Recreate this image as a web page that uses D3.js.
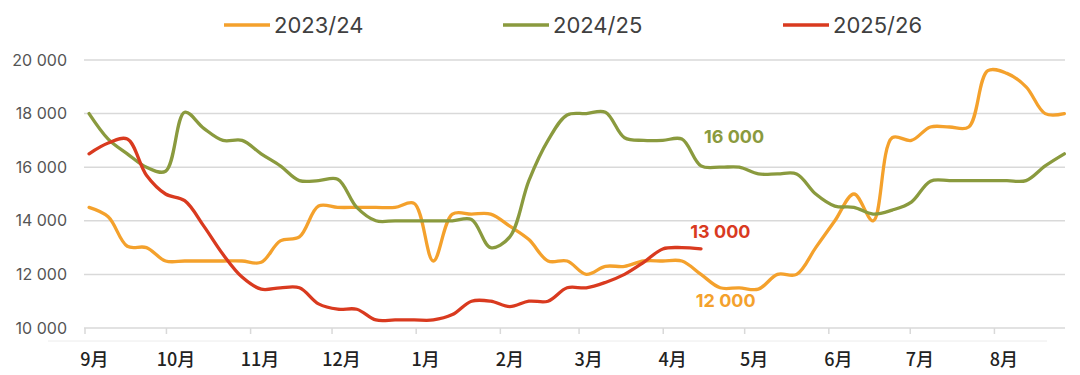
<!DOCTYPE html>
<html>
<head>
<meta charset="utf-8">
<script src="https://cdn.jsdelivr.net/npm/d3@7"></script>
<style>
  body { margin: 0; background: #fff; }
  svg { display: block; font-family: Inter, "Open Sans", sans-serif; }
</style>
</head>
<body>
<script>
// season labels and x categories
const seasons = ["2023/24", "2024/25", "2025/26"];
const monthLabels = ["9月", "10月", "11月", "12月", "1月", "2月", "3月", "4月", "5月", "6月", "7月", "8月"];
const yTicks = [10000, 12000, 14000, 16000, 18000, 20000];

// weekly values
const s2324 = [14500, 14150, 13050, 13000, 12500, 12500, 12500, 12500, 12500, 12450,
  13250, 13400, 14550, 14500, 14500, 14500, 14500, 14650, 12500, 14250,
  14250, 14250, 13800, 13300, 12500, 12500, 12000, 12300, 12300, 12500,
  12500, 12500, 12000, 11500, 11500, 11450, 12000, 12000, 13000, 14000,
  15000, 14000, 17100, 17000, 17500, 17500, 17500, 19600, 19500, 19000,
  18000, 18000];
const s2425 = [18000, 17050, 16500, 16000, 15850, 18050, 17450, 17000, 17000, 16500,
  16050, 15500, 15500, 15550, 14500, 14000, 14000, 14000, 14000, 14000,
  14050, 13000, 13400, 15500, 17000, 17950, 18000, 18050, 17100, 17000,
  17000, 17050, 16050, 16000, 16000, 15750, 15750, 15750, 15000, 14550,
  14500, 14250, 14400, 14700, 15480, 15500, 15500, 15500, 15500, 15500,
  16050, 16500];
const s2526 = [16500, 16900, 17050, 15700, 15000, 14750, 13800, 12750, 11900, 11450,
  11500, 11500, 10900, 10700, 10700, 10300, 10300, 10300, 10300, 10500,
  11000, 11000, 10800, 11000, 11000, 11500, 11500, 11700, 12000, 12450,
  12950, 13000, 12950];

const notes = [
  { text: "16 000", season: "2024/25" },
  { text: "13 000", season: "2025/26" },
  { text: "12 000", season: "2023/24" }
];

const colors = { "2023/24": "#f4a12c", "2024/25": "#8a9a3e", "2025/26": "#d93a1f" };

const width = 1080, height = 375;
const svg = d3.select("body").append("svg")
  .attr("width", width)
  .attr("height", height);

const seasonStart = new Date(2023, 8, 1);
const seasonEnd = new Date(2024, 7, 27);
const x = d3.scaleTime().domain([seasonStart, seasonEnd]).range([85, 1065]);
const y = d3.scaleLinear().domain([10000, 20000]).range([328, 60]);

// sample dates, evenly spaced weeks
const firstWeek = new Date(2023, 8, 2, 12), lastWeek = new Date(2024, 7, 26, 18);
const weeks = d3.range(s2324.length).map(i =>
  new Date(+firstWeek + i * (lastWeek - firstWeek) / (s2324.length - 1)));

//Grid
svg.append("g")
  .selectAll("line")
  .data(yTicks)
  .enter().append("line")
  .attr("x1", 84).attr("x2", 1065)
  .attr("y1", d => y(d)).attr("y2", d => y(d))
  .attr("stroke", "#d9d9d9")
  .attr("stroke-width", 1.5);

svg.append("g")
  .selectAll("text")
  .data(yTicks)
  .enter().append("text")
  .attr("x", 67)
  .attr("y", d => y(d))
  .attr("dy", "0.35em")
  .attr("text-anchor", "end")
  .attr("font-size", 16)
  .attr("fill", "#555")
  .text(d => d3.format(",")(d).replace(",", " "));

//X axis
const monthStarts = d3.timeMonth.range(seasonStart, new Date(2024, 8, 1));
svg.append("g")
  .selectAll("line")
  .data(monthStarts)
  .enter().append("line")
  .attr("x1", d => x(d)).attr("x2", d => x(d))
  .attr("y1", y(10000)).attr("y2", y(10000) + 6)
  .attr("stroke", "#d9d9d9")
  .attr("stroke-width", 1.5);

svg.append("line")
  .attr("x1", 48).attr("x2", 1047)
  .attr("y1", 341).attr("y2", 341)
  .attr("stroke", "#ececec")
  .attr("stroke-width", 1);

svg.append("g")
  .selectAll("text")
  .data(monthStarts)
  .enter().append("text")
  .attr("x", d => x(d3.timeHour.offset(d, 84)))
  .attr("y", 366)
  .attr("text-anchor", "middle")
  .attr("font-family", "'Noto Sans CJK SC', sans-serif")
  .attr("font-size", 18)
  .attr("font-weight", 500)
  .attr("fill", "#222")
  .text((d, i) => monthLabels[i]);

//Lines
const line = d3.line()
  .x((d, i) => x(weeks[i]))
  .y(d => y(d))
  .curve(d3.curveCatmullRom.alpha(0.5));

const seriesData = { "2023/24": s2324, "2024/25": s2425, "2025/26": s2526 };
svg.append("g")
  .selectAll("path")
  .data(seasons)
  .enter().append("path")
  .attr("d", d => line(seriesData[d]))
  .attr("fill", "none")
  .attr("stroke", d => colors[d])
  .attr("stroke-width", 3.3)
  .attr("stroke-linecap", "round")
  .attr("stroke-linejoin", "round");

//Labels next to the lines
const noteAt = [
  { date: new Date(2024, 3, 16), value: 16000, dy: -24 },
  { date: new Date(2024, 3, 11), value: 13000, dy: -10 },
  { date: new Date(2024, 3, 13), value: 12000, dy: 33 }
];
svg.append("g")
  .selectAll("text")
  .data(notes)
  .enter().append("text")
  .attr("x", (d, i) => x(noteAt[i].date))
  .attr("y", (d, i) => y(noteAt[i].value) + noteAt[i].dy)
  .attr("font-size", 18)
  .attr("font-weight", 700)
  .attr("fill", d => colors[d.season])
  .text(d => d.text);

//Legend
const legendX = [224, 503, 783];
const gLegend = svg.append("g")
  .selectAll("g")
  .data(seasons)
  .enter().append("g")
  .attr("transform", (d, i) => "translate(" + legendX[i] + ", 25)");
gLegend.append("line")
  .attr("x1", 0).attr("x2", 46)
  .attr("stroke", d => colors[d])
  .attr("stroke-width", 3.5);
gLegend.append("text")
  .attr("x", 50)
  .attr("y", 8)
  .attr("font-size", 22)
  .attr("fill", "#404040")
  .text(d => d);
</script>
</body>
</html>
